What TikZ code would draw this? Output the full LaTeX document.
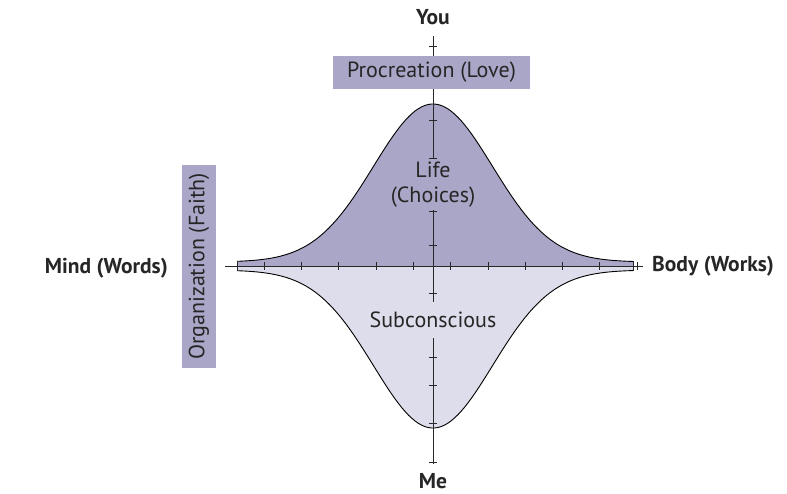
\documentclass[tikz,border=0pt]{standalone}
\usepackage{fontspec}
\setmainfont{PT Sans}
\usepackage{xcolor}
\usepackage{tikz}
\definecolor{lifefill}{RGB}{170,166,199}
\definecolor{subfill}{RGB}{222,221,235}
\definecolor{axisgray}{RGB}{40,40,40}

\begin{document}
\begin{tikzpicture}[
  x=1pt, y=-1pt,
  axlabel/.style = {font=\fontsize{21.5}{24}\selectfont\bfseries, text=black!85, inner sep=0pt},
  arealabel/.style = {font=\fontsize{22}{25}\selectfont, text=black!85, align=center,
    inner xsep=2pt, inner ysep=1pt},
  tagbox/.style = {fill=lifefill, font=\fontsize{22}{25}\selectfont, text=black!85,
    inner sep=0pt},
  curve/.style = {draw=black, line width=0.9pt},
  axis/.style = {draw=axisgray, line width=1pt},
  tick/.style = {draw=axisgray, line width=0.8pt}
]
  \useasboundingbox (0,0) rectangle (787,493);

  % the two bells
  \fill[lifefill] plot[domain=-196:200, samples=121] ({433+\x},{262-158*exp(-(\x/84)^2)})
    -- (633,266) -- (237,266) -- cycle;
  \fill[subfill] plot[domain=-196:200, samples=121] ({433+\x},{270+158*exp(-(\x/84)^2)})
    -- (633,266) -- (237,266) -- cycle;
  \draw[curve] plot[domain=-196:200, samples=121] ({433+\x},{262-158*exp(-(\x/84)^2)});
  \draw[curve] plot[domain=-196:200, samples=121] ({433+\x},{270+158*exp(-(\x/84)^2)});

  % axes
  \coordinate (west)  at (225,266);
  \coordinate (east)  at (643,266);
  \coordinate (north) at (433,36);
  \coordinate (south) at (433,464);
  \draw[axis] (west) -- (east);
  \draw[axis] (north) -- (south);
  \draw[tick] (237,261) -- (237,271);
  \draw[tick] (633,261) -- (633,271);
  \draw[tick] (637,262) -- (637,270);
  \foreach \k in {0,...,4} {
    \draw[tick] ({432+18.6+37.3*\k},262) -- ++(0,8);
    \draw[tick] ({432-18.6-37.3*\k},262) -- ++(0,8);
  }
  \foreach \t in {46,120,158,211,245,293,357,385,423,462}
    \draw[tick] (429,\t) -- (437,\t);

  % labels
  \node[axlabel] (you)  at (433,17)  {You};
  \node[axlabel] (me)   at (433,481) {Me};
  \node[axlabel, anchor=east] (mind) at (168,268) {Mind (Words)};
  \node[axlabel, anchor=west] (body) at (652,266) {Body (Works)};

  \node[tagbox, minimum width=197pt, minimum height=33pt] (love) at (431.5,72.5) {Procreation (Love)};
  \node[tagbox, rotate=90, minimum width=203pt, minimum height=34pt] (faith) at (199,266.5) {Organization (Faith)};

  \node[arealabel, fill=lifefill, minimum height=51pt] (life) at (433,184.5) {Life\\(Choices)};
  \node[arealabel, fill=subfill, minimum height=36pt] (sub) at (433,320) {Subconscious};
\end{tikzpicture}
\end{document}
